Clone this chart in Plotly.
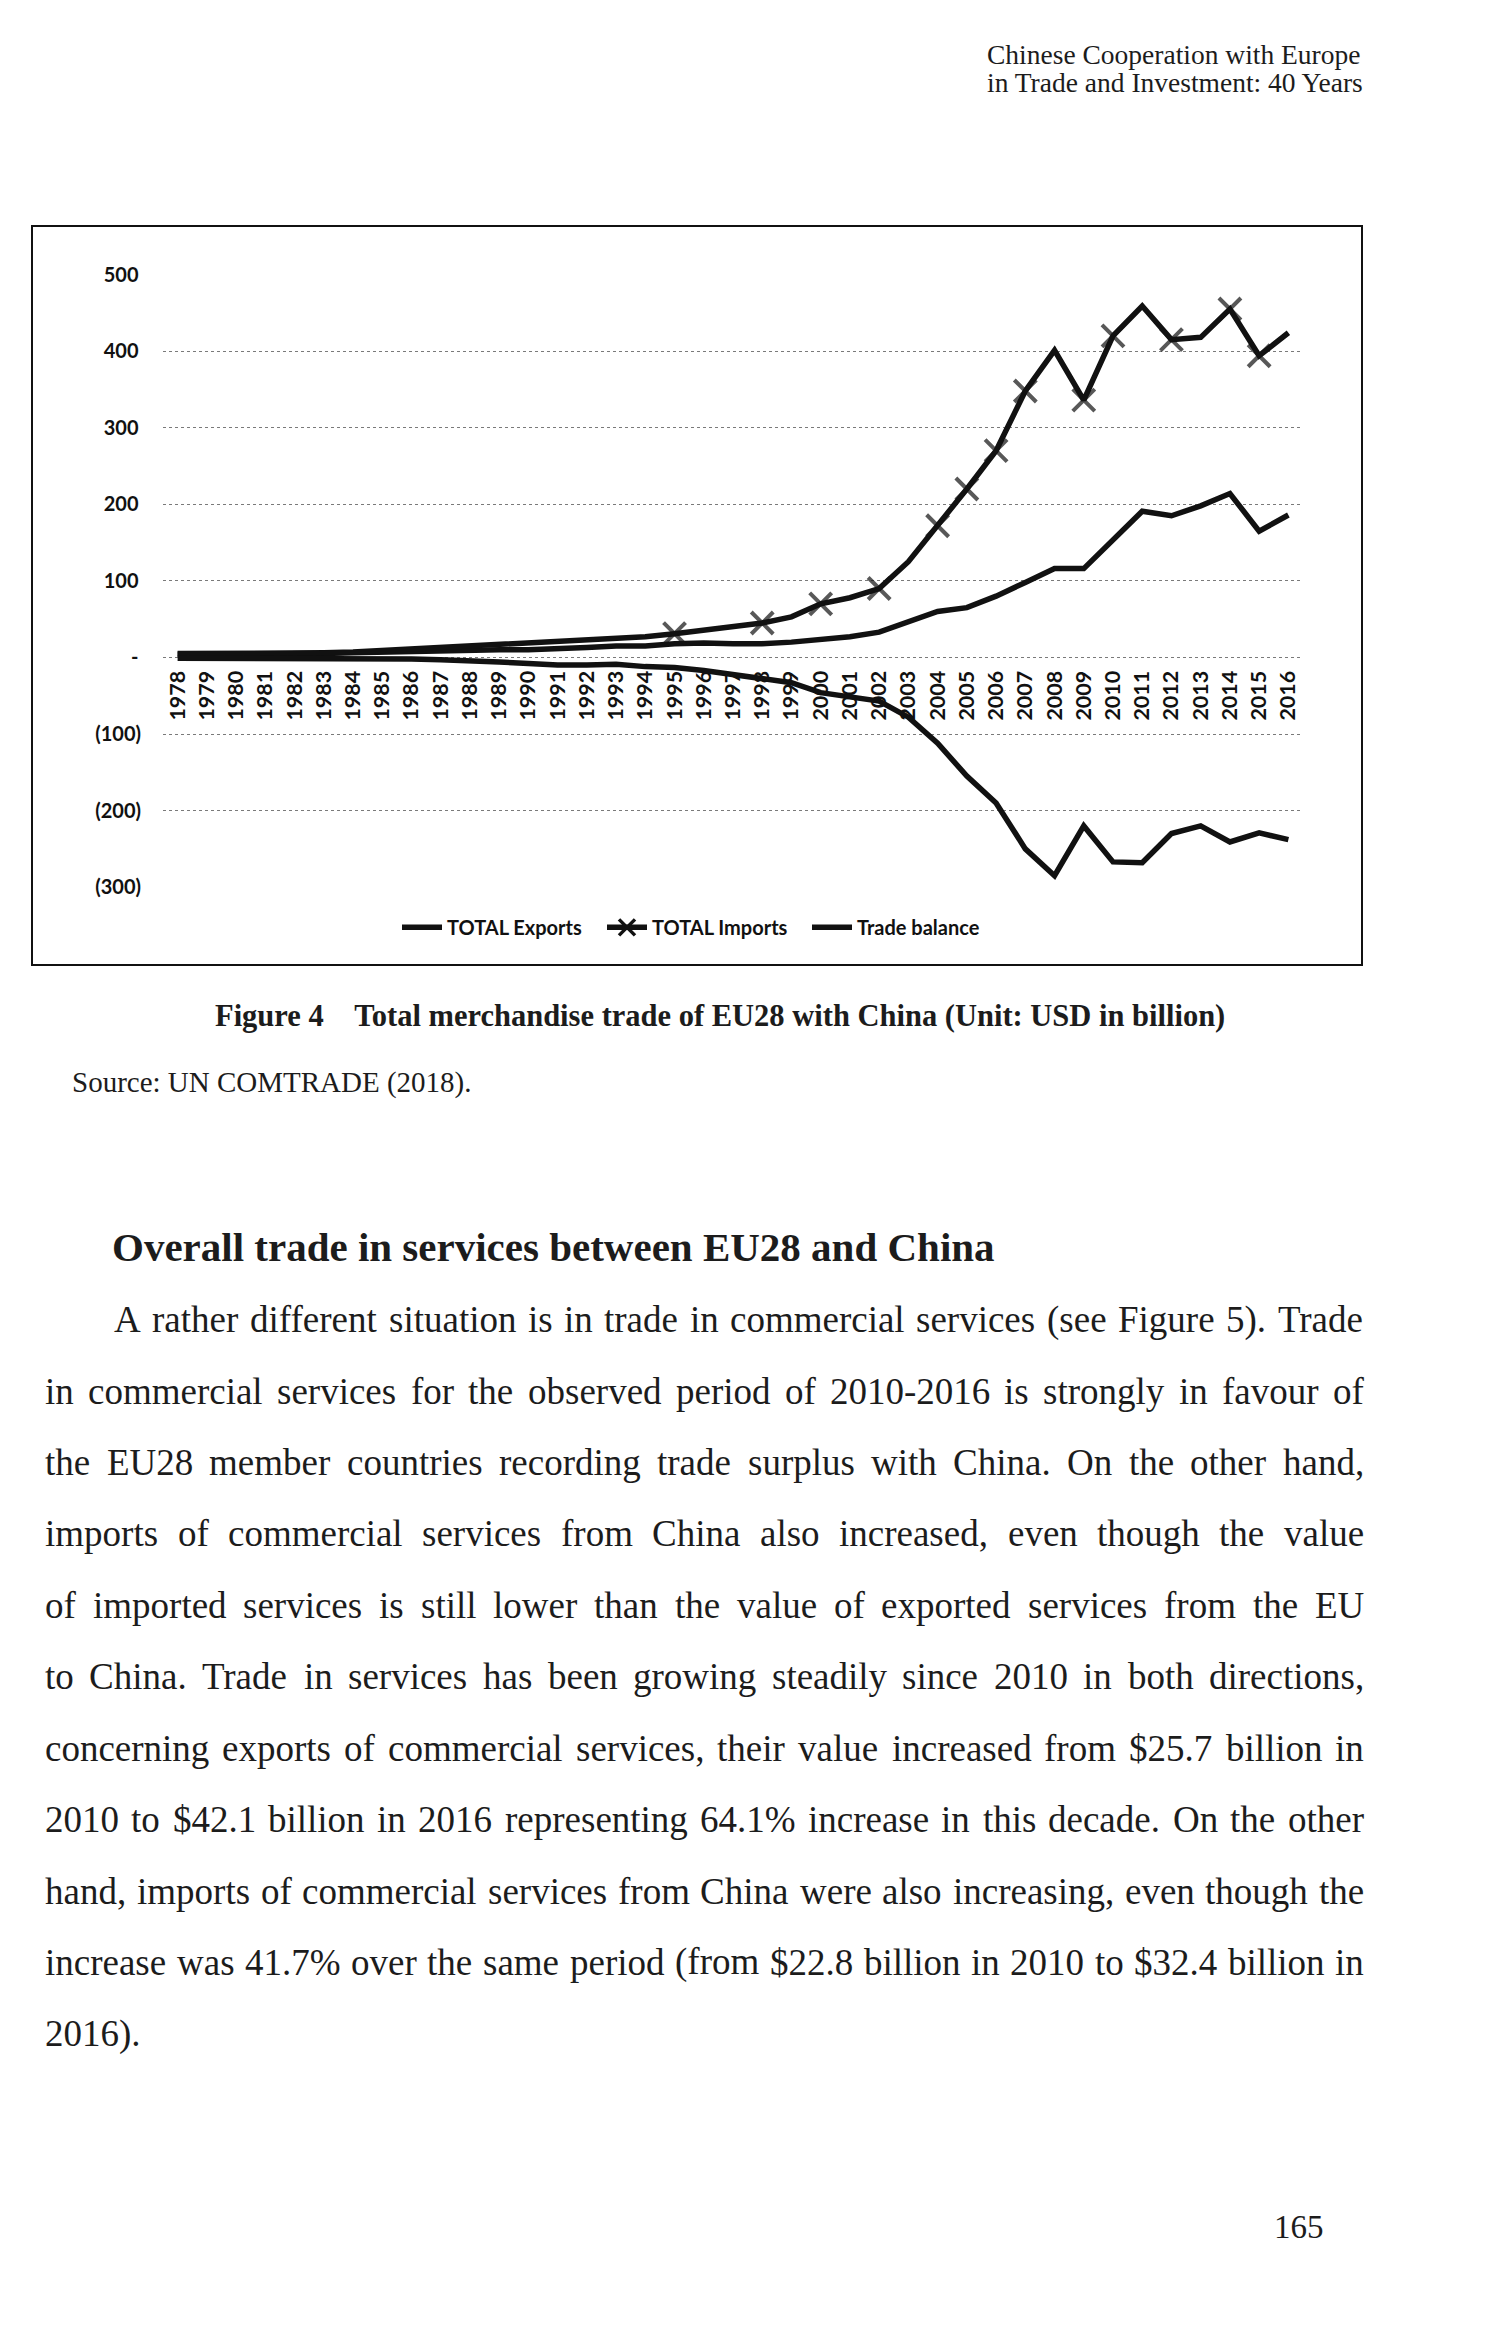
import plotly.graph_objects as go

# ---------------- data ----------------
years = list(range(1978, 2017))
year_labels = [str(y) for y in years]
exports = [4, 4, 5, 5, 5, 5, 6, 7, 8, 9,
           10, 10, 10, 11, 13, 15, 15, 18, 19, 18,
           18, 20, 24, 27, 33, 47, 60, 65, 80, 98,
           116, 116, 153, 191, 185, 198, 214, 165, 186]
imports = [5, 5, 6, 6, 6, 6, 7, 9, 10, 12,
           14, 16, 18, 21, 23, 24, 27, 31, 36, 40,
           45, 53, 70, 78, 90, 125, 172, 220, 270, 348,
           401, 336, 420, 459, 415, 418, 455, 394, 424]
balance = [-1, -1, -1, -1, -1, -1, -1, -2, -2, -3,
           -4, -6, -8, -10, -10, -9, -12, -13, -17, -22,
           -27, -33, -46, -51, -57, -78, -112, -155, -190, -250,
           -285, -220, -267, -268, -230, -220, -241, -229, -238]
import_marker_years = [1995, 1998, 2000, 2002, 2004, 2005, 2006, 2007,
                       2009, 2010, 2012, 2014, 2015]
y_tick_values = [-300, -200, -100, 0, 100, 200, 300, 400, 500]
y_tick_labels = ["(300)", "(200)", "(100)", "-\u2009", "100\u2009", "200\u2009",
                 "300\u2009", "400\u2009", "500\u2009"]
series_names = ["TOTAL Exports", "TOTAL Imports", "Trade balance"]

header_lines = ["Chinese Cooperation with Europe", "in Trade and Investment: 40 Years"]
caption = "Figure 4\u2002\u2002Total merchandise trade of EU28 with China (Unit: USD in billion)"
source = "Source: UN COMTRADE (2018)."
heading = "Overall trade in services between EU28 and China"
body_lines = [
    "A rather different situation is in trade in commercial services (see Figure 5). Trade",
    "in commercial services for the observed period of 2010-2016 is strongly in favour of",
    "the EU28 member countries recording trade surplus with China. On the other hand,",
    "imports of commercial services from China also increased, even though the value",
    "of imported services is still lower than the value of exported services from the EU",
    "to China. Trade in services has been growing steadily since 2010 in both directions,",
    "concerning exports of commercial services, their value increased from $25.7 billion in",
    "2010 to $42.1 billion in 2016 representing 64.1% increase in this decade. On the other",
    "hand, imports of commercial services from China were also increasing, even though the",
    "increase was 41.7% over the same period (from $22.8 billion in 2010 to $32.4 billion in",
    "2016).",
]
page_number = "165"

# ---------------- page geometry ----------------
W, H = 1500, 2335
OFF = 8  # page margin around the figure in the browser
def px(x):
    return (x - OFF) / W
def py(y):
    return 1 - (y - OFF) / H

ZERO_Y = 651.5
UNIT = 0.773  # px per USD bn
top_px = ZERO_Y - 501 * UNIT
bot_px = ZERO_Y + 301 * UNIT

BLACK = "#111111"
LW = 5.5

fig = go.Figure()
fig.add_trace(go.Scatter(x=years, y=exports, mode="lines", name=series_names[0],
                         line=dict(color=BLACK, width=LW), legendrank=1))
fig.add_trace(go.Scatter(x=years, y=imports, mode="lines+markers", name=series_names[1],
                         line=dict(color=BLACK, width=LW),
                         marker=dict(symbol="x-thin-open",
                                     size=[22 if y in import_marker_years else 0 for y in years],
                                     color=BLACK, line=dict(color=BLACK, width=4)),
                         showlegend=False))
fig.add_trace(go.Scatter(x=[None], y=[None], mode="lines+markers", name=series_names[1],
                         line=dict(color=BLACK, width=LW),
                         marker=dict(symbol="x-thin-open", size=16, color=BLACK,
                                     line=dict(color=BLACK, width=3.5)),
                         legendrank=2))
fig.add_trace(go.Scatter(x=years, y=balance, mode="lines", name=series_names[2],
                         line=dict(color=BLACK, width=LW), legendrank=3))

# ---------------- text ----------------
TIMES = {' ': 250, '!': 333, '"': 408, '#': 500, '$': 500, '%': 833, '&': 778, "'": 333,
         '(': 333, ')': 333, '*': 500, '+': 564, ',': 250, '-': 333, '.': 250, '/': 278,
         ':': 278, ';': 278, '?': 444,
         'A': 722, 'B': 667, 'C': 667, 'D': 722, 'E': 611, 'F': 556, 'G': 722, 'H': 722,
         'I': 333, 'J': 389, 'K': 722, 'L': 611, 'M': 889, 'N': 722, 'O': 722, 'P': 556,
         'Q': 722, 'R': 667, 'S': 556, 'T': 611, 'U': 722, 'V': 722, 'W': 944, 'X': 722,
         'Y': 722, 'Z': 611,
         'a': 444, 'b': 500, 'c': 444, 'd': 500, 'e': 444, 'f': 333, 'g': 500, 'h': 500,
         'i': 278, 'j': 278, 'k': 500, 'l': 278, 'm': 778, 'n': 500, 'o': 500, 'p': 500,
         'q': 500, 'r': 333, 's': 389, 't': 278, 'u': 500, 'v': 500, 'w': 722, 'x': 500,
         'y': 500, 'z': 444}
for d in "0123456789":
    TIMES[d] = 500

def text_width(s, size):
    return sum(TIMES.get(c, 500) for c in s) / 1000.0 * size

SERIF = "Liberation Serif"
TEXT_COLOR = "#1c1c1c"
annotations = []

def add_text(x, y, s, size, bold=False, anchor="left"):
    annotations.append(dict(x=px(x), y=py(y), xref="paper", yref="paper", text=s,
                            showarrow=False, xanchor=anchor, yanchor="middle",
                            font=dict(family=SERIF, size=size, color=TEXT_COLOR,
                                      weight="bold" if bold else "normal")))

# header
add_text(985, 43, header_lines[0], 27.5)
add_text(985, 71.5, header_lines[1], 27.5)
# caption / source
add_text(720, 1013, caption, 30.5, bold=True, anchor="center")
add_text(70, 1081, source, 29)
# heading
add_text(110, 1247, heading, 41, bold=True)

# justified body text
BODY_SIZE = 37
LEFT, INDENT, RIGHT = 43, 112, 1362
LINE_Y0, LINE_STEP = 1320, 72.1
for i, line in enumerate(body_lines):
    y = LINE_Y0 + i * LINE_STEP
    left = INDENT if i == 0 else LEFT
    words = line.split(" ")
    widths = [text_width(w, BODY_SIZE) for w in words]
    if i == len(body_lines) - 1 or len(words) == 1:
        gap = text_width(" ", BODY_SIZE)
    else:
        gap = (RIGHT - left - sum(widths)) / (len(words) - 1)
    x = left
    for w, ww in zip(words, widths):
        add_text(x, y, w, BODY_SIZE)
        x += ww + gap

# page number
add_text(1299, 2236, page_number, 33, anchor="center")

fig.update_layout(
    width=W, height=H, autosize=False,
    margin=dict(l=0, r=0, t=0, b=0, pad=0),
    paper_bgcolor="white", plot_bgcolor="white",
    xaxis=dict(domain=[px(163), px(1303)], range=[1977.5, 2016.5],
               tickmode="array", tickvals=years, ticktext=year_labels,
               tickangle=-90, anchor="free", position=py(ZERO_Y),
               showgrid=False, zeroline=False, showline=False, ticks="",
               tickfont=dict(family="Lato", size=21.5, color=BLACK, weight="bold"),
               ticklabelstandoff=8),
    yaxis=dict(domain=[py(bot_px), py(top_px)], range=[-301, 501],
               tickmode="array", tickvals=y_tick_values, ticktext=y_tick_labels,
               showgrid=True, gridcolor="#7a7a7a", griddash="dot", gridwidth=1.3,
               zeroline=False, showline=False, ticks="",
               tickfont=dict(family="Lato", size=20, color=BLACK, weight="bold"),
               ticklabelstandoff=21),
    legend=dict(orientation="h", x=px(397), xanchor="left", y=py(924), yanchor="middle",
                font=dict(family="Lato", size=20, color=BLACK, weight="bold"),
                bgcolor="rgba(0,0,0,0)", itemwidth=40, tracegroupgap=0,
                entrywidth=150, entrywidthmode="pixels"),
    shapes=[dict(type="rect", xref="paper", yref="paper",
                 x0=px(32), x1=px(1362), y0=py(962), y1=py(216),
                 line=dict(color=BLACK, width=2), fillcolor="rgba(0,0,0,0)")],
    annotations=annotations,
    showlegend=True,
)

fig.write_html("out.html")
